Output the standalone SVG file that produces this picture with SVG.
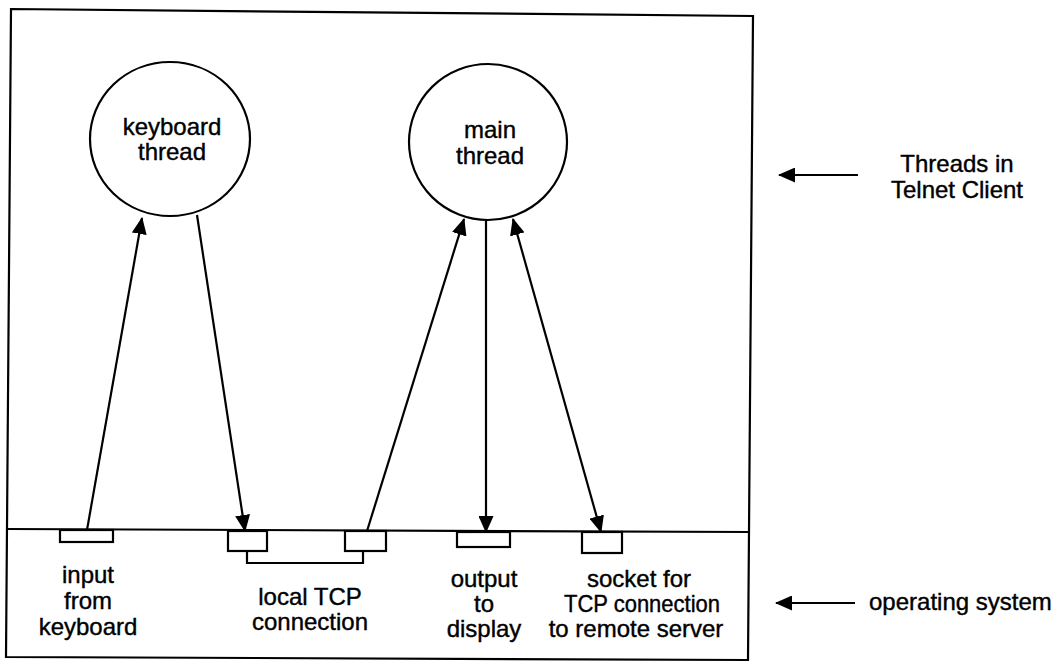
<svg xmlns="http://www.w3.org/2000/svg" width="1064" height="663" viewBox="0 0 1064 663">
<style>
.s{fill:none;stroke:#000;stroke-width:2.2}
.n{fill:#fff;stroke:#000;stroke-width:2.2}
.t{font-family:"Liberation Sans",Arial,sans-serif;font-size:24px;fill:#000;stroke:#000;stroke-width:0.4;text-anchor:middle}
.l{stroke:#000;stroke-width:2.2;fill:none}
</style>
<defs>
<marker id="ah" viewBox="0 0 17 15" refX="16" refY="7.5" markerWidth="17" markerHeight="15" markerUnits="userSpaceOnUse" orient="auto-start-reverse">
<path d="M0,0 L17,7.5 L0,15 z" fill="#000"/>
</marker>
</defs>
<rect width="1064" height="663" fill="#fff"/>
<g id="frame">
<polygon points="11,9 753,16 748,660 6,657" class="s"/>
<line x1="7" y1="529" x2="749" y2="532" class="s"/>
</g>
<g id="keyboard-thread">
<ellipse cx="170" cy="139" rx="80" ry="77" class="n"/>
<text class="t" x="172" y="135">keyboard</text>
<text class="t" x="172" y="160">thread</text>
</g>
<g id="main-thread">
<ellipse cx="488" cy="142" rx="79" ry="78" class="n"/>
<text class="t" x="490" y="138">main</text>
<text class="t" x="490" y="164">thread</text>
</g>
<g id="input-keyboard">
<rect x="60" y="530" width="53" height="12" class="s"/>
<text class="t" x="88" y="583">input</text>
<text class="t" x="88" y="609">from</text>
<text class="t" x="88" y="635">keyboard</text>
</g>
<g id="local-tcp">
<rect x="228" y="531" width="39" height="20" class="s"/>
<rect x="345" y="531" width="41" height="20" class="s"/>
<polyline points="247,551 247,563 363,563 363,551" class="s"/>
<text class="t" x="310" y="605">local TCP</text>
<text class="t" x="310" y="630">connection</text>
</g>
<g id="output-display">
<rect x="457" y="532" width="53" height="15" class="s"/>
<text class="t" x="484" y="587">output</text>
<text class="t" x="484" y="612">to</text>
<text class="t" x="484" y="637">display</text>
</g>
<g id="socket">
<rect x="582" y="532" width="40" height="21" class="s"/>
<text class="t" x="639" y="587">socket for</text>
<text class="t" x="642" y="612" textLength="156" lengthAdjust="spacingAndGlyphs">TCP connection</text>
<text class="t" x="636" y="637">to remote server</text>
</g>
<g id="connectors">
<line x1="87" y1="530" x2="142" y2="218" class="l" marker-end="url(#ah)"/>
<line x1="197" y1="215" x2="245" y2="531" class="l" marker-end="url(#ah)"/>
<line x1="367" y1="531" x2="464" y2="219" class="l" marker-end="url(#ah)"/>
<line x1="486" y1="220" x2="486" y2="532" class="l" marker-end="url(#ah)"/>
<line x1="513" y1="219" x2="601" y2="532" class="l" marker-start="url(#ah)" marker-end="url(#ah)"/>
<line x1="858" y1="175" x2="779" y2="175" class="l" marker-end="url(#ah)"/>
<line x1="855" y1="603" x2="776" y2="603" class="l" marker-end="url(#ah)"/>
</g>
<g id="labels">
<text class="t" x="957" y="172">Threads in</text>
<text class="t" x="957" y="198">Telnet Client</text>
<text class="t" x="869" y="610" style="text-anchor:start">operating system</text>
</g>
</svg>
